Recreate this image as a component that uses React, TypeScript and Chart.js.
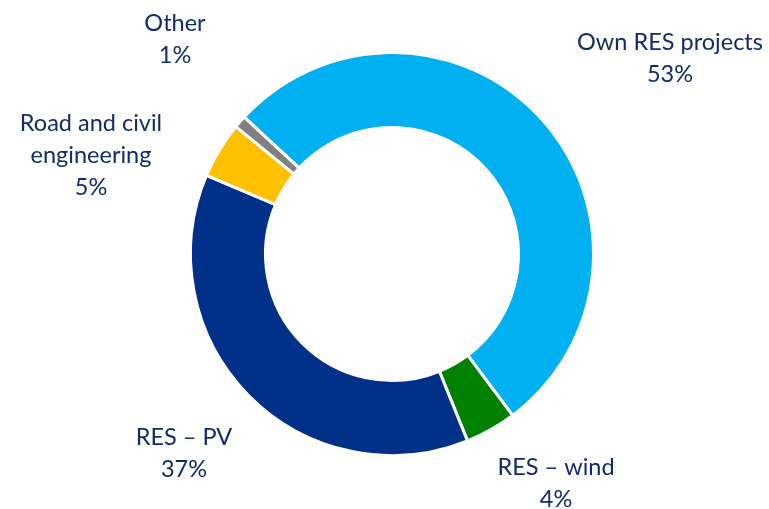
import React, { useEffect, useRef } from "react";
import { Chart, registerables } from "chart.js";

Chart.register(...registerables);

const categories = ["Own RES projects", "RES – wind", "RES – PV", "Road and civil engineering", "Other"];
const shares = [52.9, 4.1, 37.5, 4.5, 1.0];
const shareLabels = ["53%", "4%", "37%", "5%", "1%"];
const colors = ["#00B0F0", "#008000", "#003087", "#FFC000", "#808080"];

// label layout: lines of text and their center positions
const labelLayout = [
  { lines: ["Own RES projects", shareLabels[0]], x: 670, y: 42 },
  { lines: ["RES – wind", shareLabels[1]], x: 556, y: 467 },
  { lines: ["RES – PV", shareLabels[2]], x: 184, y: 437 },
  { lines: ["Road and civil", "engineering", shareLabels[3]], x: 91, y: 123 },
  { lines: ["Other", shareLabels[4]], x: 175, y: 23 },
];

const labelPlugin = {
  id: "sliceLabels",
  afterDraw(chart: any) {
    const ctx = chart.ctx;
    ctx.save();
    ctx.font = "23.5px Lato";
    ctx.fillStyle = "#112C66";
    ctx.textAlign = "center";
    ctx.textBaseline = "middle";
    labelLayout.forEach((l) => {
      l.lines.forEach((t, i) => {
        ctx.fillText(t, l.x, l.y + i * 32);
      });
    });
    ctx.restore();
  },
};

export default function App() {
  const ref = useRef<HTMLCanvasElement>(null);
  useEffect(() => {
    if (!ref.current) return;
    const chart = new Chart(ref.current, {
      type: "doughnut",
      data: {
        labels: categories,
        datasets: [
          {
            data: shares,
            backgroundColor: colors,
            borderColor: "#ffffff",
            borderWidth: 3,
          },
        ],
      },
      options: {
        animation: false,
        responsive: false,
        rotation: -47.2,
        cutout: 126.5,
        layout: { padding: { left: 189, right: 174, top: 51, bottom: 52 } },
        plugins: { legend: { display: false }, tooltip: { enabled: false } },
      },
      plugins: [labelPlugin],
    });
    return () => chart.destroy();
  }, []);
  return (
    <div style={{ position: "absolute", left: 0, top: 0, width: 769, height: 509, background: "#fff" }}>
      <canvas ref={ref} width={769} height={509} style={{ width: 769, height: 509 }} />
    </div>
  );
}
